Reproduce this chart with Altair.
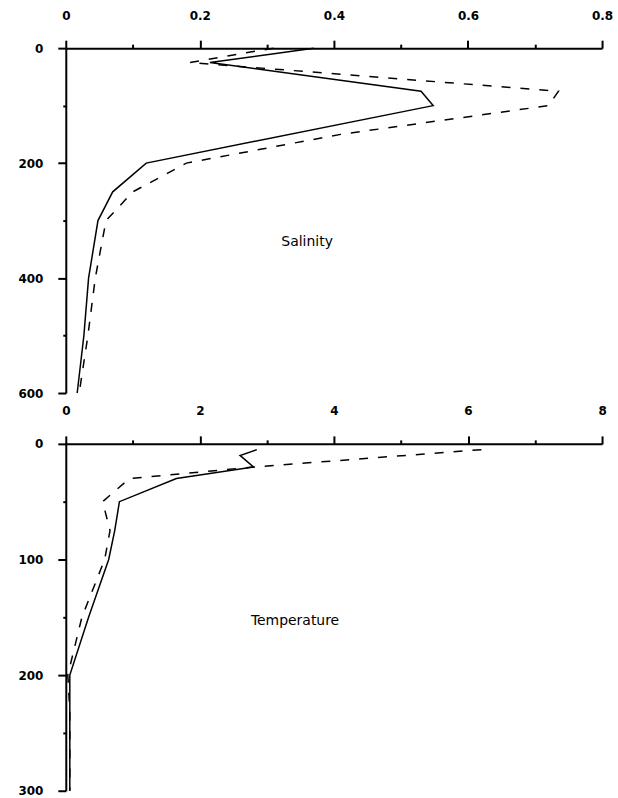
import altair as alt
import pandas as pd

# Salinity profiles: depth (m) and value for the two stations
sal_depth_solid = [0, 25, 75, 100, 200, 250, 300, 400, 500, 600]
sal_solid = [0.37, 0.215, 0.53, 0.548, 0.12, 0.07, 0.048, 0.034, 0.027, 0.017]
sal_depth_dashed = [0, 25, 75, 100, 150, 200, 250, 300, 400, 500, 600]
sal_dashed = [0.31, 0.185, 0.735, 0.72, 0.41, 0.18, 0.10, 0.06, 0.044, 0.033, 0.02]

# Temperature profiles: depth (m) and value
temp_depth_solid = [5, 10, 20, 30, 50, 75, 100, 150, 200, 230, 300]
temp_solid = [2.85, 2.6, 2.8, 1.65, 0.8, 0.73, 0.64, 0.34, 0.06, 0.06, 0.06]
temp_depth_dashed = [5, 20, 30, 50, 75, 100, 150, 200, 230, 300]
temp_dashed = [6.2, 2.8, 0.95, 0.55, 0.66, 0.58, 0.24, 0.03, 0.06, 0.06]

# Axis tick values (major ones carry labels)
sal_ticks = [0, 0.1, 0.2, 0.3, 0.4, 0.5, 0.6, 0.7, 0.8]
sal_depth_ticks = [0, 100, 200, 300, 400, 500, 600]
temp_ticks = [0, 1, 2, 3, 4, 5, 6, 7, 8]
temp_depth_ticks = [0, 50, 100, 150, 200, 250, 300]

# Panel captions and where they sit (data units)
captions = ["Salinity", "Temperature"]
caption_x = [0.36, 3.42]
caption_depth = [337, 153]

FONT = "DejaVu Sans"


def panel(d_a, v_a, d_b, v_b, xdom, ydom, xticks, xmajor, yticks, ymajor,
          cap, cx, cy, h):
    solid = pd.DataFrame({"depth": d_a, "value": v_a})
    dashed = pd.DataFrame({"depth": d_b, "value": v_b})
    label = pd.DataFrame({"depth": [cy], "value": [cx], "text": [cap]})

    x = alt.X(
        "value:Q",
        scale=alt.Scale(domain=xdom, nice=False, zero=False),
        axis=alt.Axis(
            orient="top", values=xticks, title=None, grid=False,
            labelExpr=f"({xmajor}) ? (datum.value == 0 ? '0' : format(datum.value, '~g')) : ''",
            tickSize={"condition": {"test": xmajor, "value": 8}, "value": 4},
            tickWidth=2, domainWidth=2, labelPadding=18,
            labelFont=FONT, labelFontSize=12, labelFontWeight="bold",
            labelColor="black", tickColor="black", domainColor="black",
            labelFlush=False, labelOverlap=False,
        ),
    )
    y = alt.Y(
        "depth:Q",
        scale=alt.Scale(domain=ydom, reverse=True, nice=False, zero=False),
        axis=alt.Axis(
            orient="left", values=yticks, title=None, grid=False,
            labelExpr=f"({ymajor}) ? format(datum.value, 'd') : ''",
            tickSize={"condition": {"test": ymajor, "value": 8}, "value": 3},
            tickWidth=2, domainWidth=2, labelPadding=15,
            labelFont=FONT, labelFontSize=12, labelFontWeight="bold",
            labelColor="black", tickColor="black", domainColor="black",
            labelFlush=False, labelOverlap=False,
        ),
    )

    line_a = alt.Chart(solid).mark_line(color="black", strokeWidth=1.5).encode(
        x=x, y=y, order="depth:Q")
    line_b = alt.Chart(dashed).mark_line(
        color="black", strokeWidth=1.5, strokeDash=[9, 10]).encode(
        x=x, y=y, order="depth:Q")
    text = alt.Chart(label).mark_text(
        font=FONT, fontSize=14, color="black").encode(
        x=x, y=y, text="text:N")
    return alt.layer(line_a, line_b, text).properties(width=538, height=h)


top = panel(sal_depth_solid, sal_solid, sal_depth_dashed, sal_dashed,
            [0, 0.8], [0, 600], sal_ticks,
            "round(datum.value * 10) % 2 == 0",
            sal_depth_ticks, "datum.value % 200 == 0",
            captions[0], caption_x[0], caption_depth[0], 346)

bottom = panel(temp_depth_solid, temp_solid, temp_depth_dashed, temp_dashed,
               [0, 8], [0, 300], temp_ticks,
               "datum.value % 2 == 0",
               temp_depth_ticks, "datum.value % 100 == 0",
               captions[1], caption_x[1], caption_depth[1], 348)

chart = alt.vconcat(top, bottom, spacing=6).properties(
    padding={"left": 17, "top": 8, "right": 5, "bottom": 5},
    background="white",
).configure_view(stroke=None)

chart.save("out.html", embed_options={"renderer": "svg", "actions": False})
